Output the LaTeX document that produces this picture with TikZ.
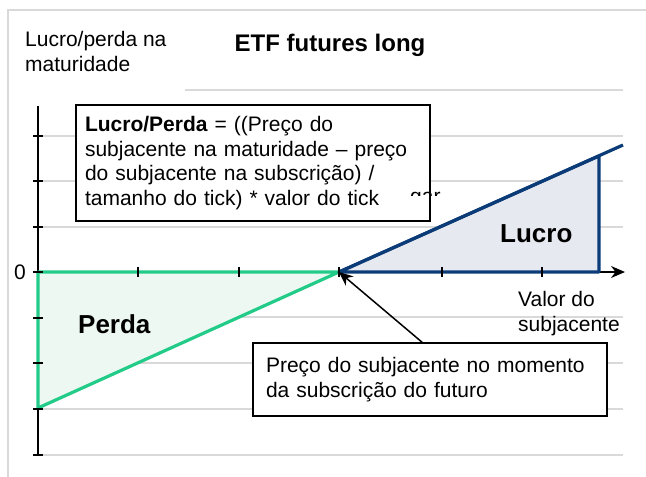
\documentclass[tikz,border=0pt]{standalone}
\usepackage{fontspec}
\setmainfont{Liberation Sans}
\usetikzlibrary{arrows.meta}

\definecolor{gainblue}{RGB}{12,60,120}
\definecolor{gainfill}{RGB}{230,233,240}
\definecolor{lossgreen}{RGB}{34,204,136}
\definecolor{lossfill}{RGB}{238,248,243}
\definecolor{gridgray}{RGB}{217,217,217}

\begin{document}
\begin{tikzpicture}[x=1pt, y=-1pt, >={Stealth[length=14pt,width=12pt]},
   txt/.style={font=\fontsize{21}{24.5}\selectfont, inner sep=0pt},
   big/.style={font=\fontsize{26}{30}\selectfont\bfseries, inner sep=0pt},
   callout/.style={draw, line width=1.5pt, fill=white, align=left, inner ysep=0pt,
      font=\fontsize{21}{24.5}\selectfont},
   gridline/.style={gridgray, line width=1.2pt},
   tickmark/.style={line width=1.3pt},
   area/.style={line width=3.2pt, line join=round}]
   \useasboundingbox (0,0) rectangle (646,477);
   % frame and grid
   \draw [gridgray, line width=2pt] (8,477) -- (8,10) -- (646,10);
   \draw [gridline] (185,90) -- (623,90);
   \foreach \y in {136,181,227,317,363,409,455}
      \draw [gridline] (38,\y) -- (623,\y);
   % axes
   \coordinate (o) at (339,272);
   \coordinate (xstart) at (38,272);
   \coordinate (xend) at (625,272);
   \coordinate (ytop) at (38,106);
   \coordinate (ybot) at (38,455);
   \draw [line width=1.3pt] (ytop) -- (ybot);
   \draw [->, line width=1.3pt] (xstart) -- (xend);
   % loss and profit
   \coordinate (lossmin) at (38,408);
   \coordinate (gainbase) at (599,272);
   \coordinate (gaintop) at (599,156);
   \coordinate (gainend) at (623,145);
   \filldraw [area, fill=lossfill, draw=lossgreen] (xstart) -- (o) -- (lossmin) -- cycle;
   \filldraw [area, fill=gainfill, draw=gainblue] (o) -- (gainbase) -- (gaintop) -- cycle;
   \draw [area, gainblue] (o) -- (gainend);
   \foreach \y in {136,181,227,272,318,363,409,455}
      \draw [tickmark] (33,\y) -- (43,\y);
   \foreach \x in {138,239,339,442,542}
      \draw [tickmark] (\x,267) -- (\x,277);
   % labels
   \node (zero) at (20,272) [txt] {0};
   \node (yname) at (25,51.5) [txt, anchor=west, align=left] {Lucro/perda na\\maturidade};
   \node (title) at (330,45) [inner sep=0pt, font=\fontsize{24}{28}\selectfont\bfseries] {ETF futures long};
   \node (xname) at (518,313.5) [txt, anchor=west, align=left] {Valor do\\subjacente};
   \node (perda) at (78,324) [big, anchor=west] {Perda};
   \node (lucro) at (500,234) [big, anchor=west] {Lucro};
   % callouts
   \node (formula) at (253,163) [callout, minimum width=354pt, minimum height=116pt,
      text width=336pt, inner xsep=9pt] {\textbf{Lucro/Perda} = ((Preço do\\
subjacente na maturidade – preço\\
do subjacente na subscrição) /\\
tamanho do tick) * valor do tick};
   \begin{scope}
      \clip (400,191) rectangle (460,195);
      \node (hidden) at (410,203) [txt, anchor=base west] {gar};
   \end{scope}
   \node (subscr) at (430,379.5) [callout, minimum width=354pt, minimum height=73pt,
      text width=328pt, inner xsep=13pt] {Preço do subjacente no momento\\
da subscrição do futuro};
   \draw [->, line width=1.5pt] (subscr.102) -- (o);
\end{tikzpicture}
\end{document}
